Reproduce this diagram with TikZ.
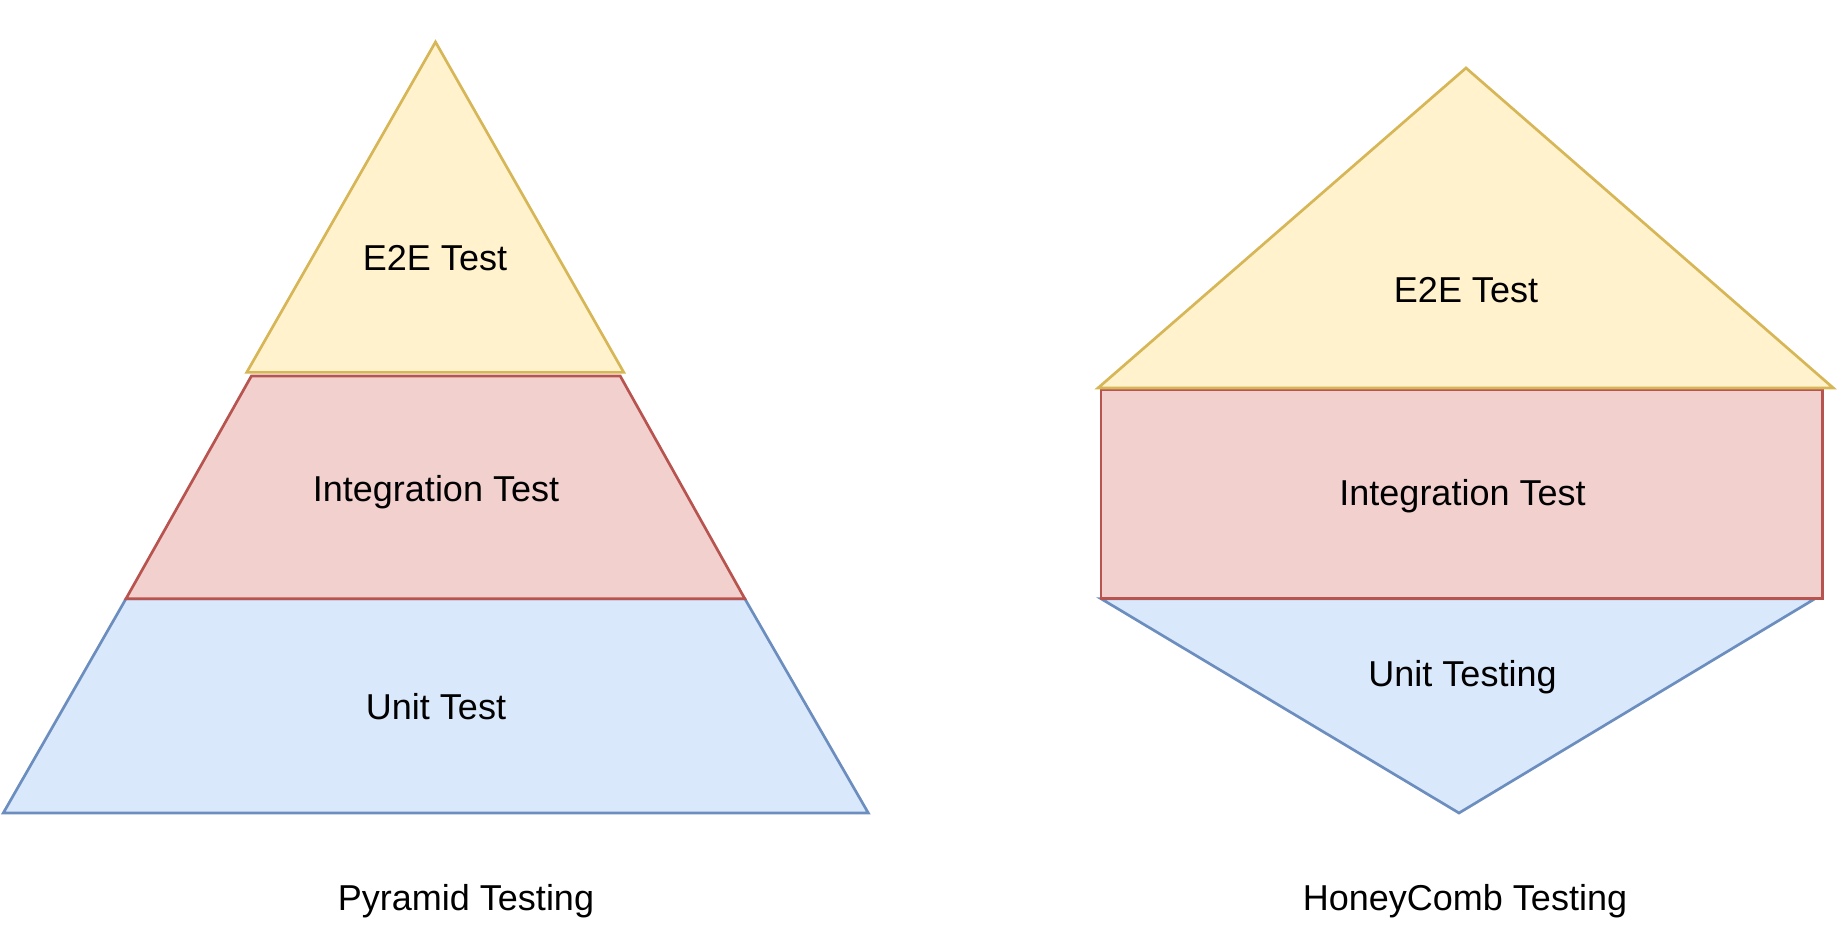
\documentclass[tikz,border=0pt]{standalone}
\usepackage{fontspec}
\setmainfont{Liberation Sans}
\definecolor{e2efill}{HTML}{FFF2CC}
\definecolor{e2eline}{HTML}{D6B656}
\definecolor{intfill}{HTML}{F2D0CE}
\definecolor{intline}{HTML}{B85450}
\definecolor{unitfill}{HTML}{DAE8FC}
\definecolor{unitline}{HTML}{6C8EBF}
\tikzset{
  e2elayer/.style={fill=e2efill, draw=e2eline, line width=1.35pt, line join=miter},
  intlayer/.style={fill=intfill, draw=intline, line width=1.35pt, line join=miter},
  unitlayer/.style={fill=unitfill, draw=unitline, line width=1.35pt, line join=miter},
  layertext/.style={anchor=base, inner sep=0pt, font=\fontsize{18}{21.6}\selectfont},
}
\begin{document}
\begin{tikzpicture}[x=0.5pt, y=-0.5pt]
  \useasboundingbox (0,0) rectangle (1842,940);
  % pyramid
  \draw[unitlayer] (126,598.7)--(744.8,598.7)--(868.3,813)--(3.3,813)--cycle;
  \draw[intlayer] (251.4,376)--(620.2,376)--(744.8,598.7)--(126,598.7)--cycle;
  \draw[e2elayer] (435.5,42)--(623.8,372.4)--(246.7,372.4)--cycle;
  \node[layertext] (pe2e) at (435,271) {E2E Test};
  \node[layertext] (pint) at (436,502) {Integration Test};
  \node[layertext] (punit) at (436,719) {Unit Test};
  \node[layertext] (ptitle) at (466,910) {Pyramid Testing};
  % honeycomb
  \draw[unitlayer] (1101,598.7)--(1815,598.7)--(1459,813)--cycle;
  \draw[intlayer] (1101,390)rectangle(1822.7,598.7);
  \draw[e2elayer] (1466,68)--(1833.3,388)--(1098,388)--cycle;
  \node[layertext] (he2e) at (1466,303) {E2E Test};
  \node[layertext] (hint) at (1462.5,506) {Integration Test};
  \node[layertext] (hunit) at (1462.5,686) {Unit Testing};
  \node[layertext] (htitle) at (1465,910) {HoneyComb Testing};
\end{tikzpicture}
\end{document}
